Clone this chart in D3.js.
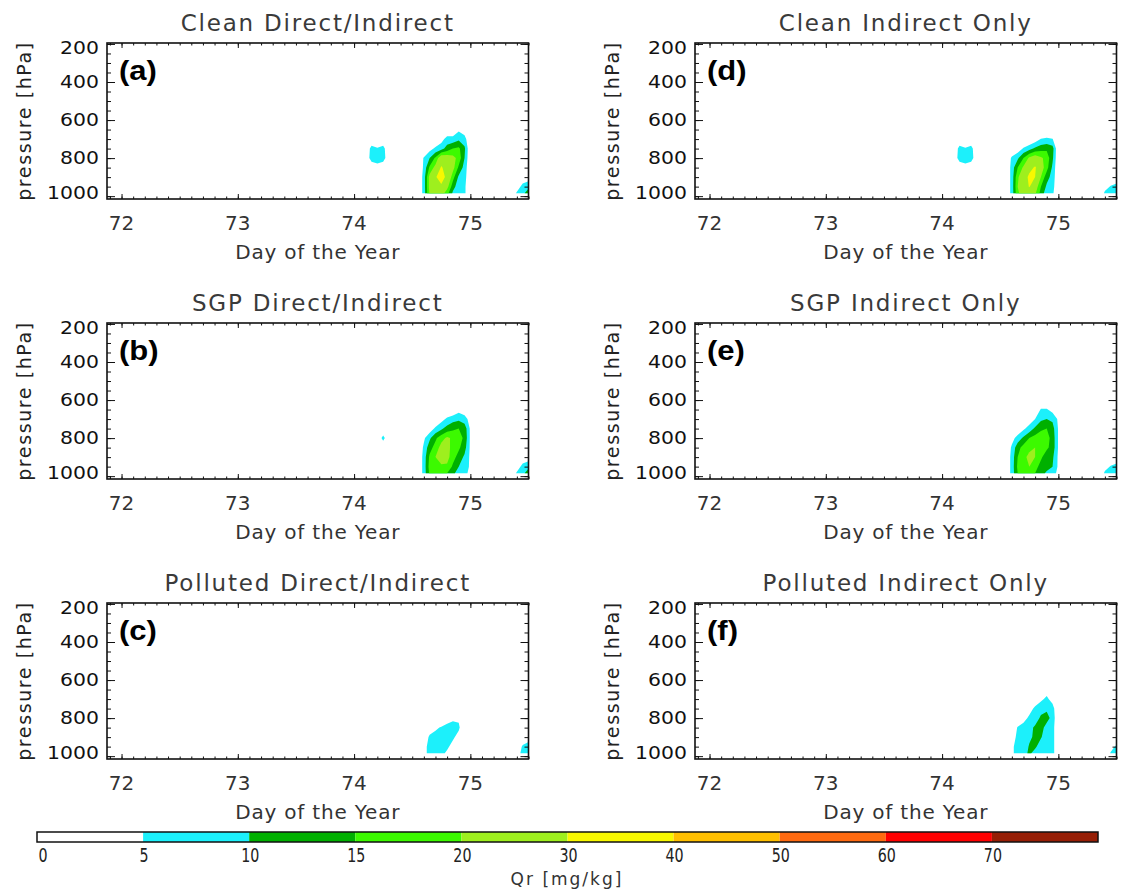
<!DOCTYPE html>
<html>
<head>
<meta charset="utf-8">
<script src="https://cdn.jsdelivr.net/npm/d3@7"></script>
<style>
  body { margin: 0; background: #fff; }
  svg { display: block; }
</style>
</head>
<body>
<div id="chart"></div>
<script>
// grid columns (day of year) and rows (pressure, hPa) of the Qr fields
const days = [74.1, 74.15, 74.2, 74.25, 74.3,
              74.55, 74.6, 74.65, 74.7, 74.75, 74.8, 74.85, 74.9, 74.95, 75.0, 75.05,
              75.35, 75.4, 75.45, 75.5];
const pressures = [600, 650, 700, 750, 800, 850, 900, 950, 985];

// rain water mixing ratio Qr [mg/kg], one row per pressure level
const qrCleanDirect = [
  [0,0,0,0,0, 0,0,0,0,0,0,0,0,0,0,0, 0,0,0,0],
  [0,0,0,0,0, 0,0,0,0,0,0,0,4,2,0,0, 0,0,0,0],
  [0,0,0,0,0, 0,0,0,0,3,7,7,9,7,0,0, 0,0,0,0],
  [0,7,5.5,7,0, 0,0,3,6,8,12,15,16,11,0,0, 0,0,0,0],
  [0,8,9,8,0, 0,5.5,10,16,25,24,22,18,10,0,0, 0,0,0,0],
  [0,0,2,0,0, 0,6,16,22,31,26,22,14,8,0,0, 0,0,0,0],
  [0,0,0,0,0, 0,7,22,29,35,27,17,9,7,0,0, 0,0,1,2],
  [0,0,0,0,0, 0,7,22,28,28,22,12,7,6,0,0, 0,2,7,9],
  [0,0,0,0,0, 0,7,21,24,23,17,9,7,6,0,0, 0,6,9,12]
];
const qrSgpDirect = [
  [0,0,0,0,0, 0,0,0,0,0,0,0,0,0,0,0, 0,0,0,0],
  [0,0,0,0,0, 0,0,0,0,0,0,0,3,2,0,0, 0,0,0,0],
  [0,0,0,0,0, 0,0,0,0,3,6,8,9,7,3,0, 0,0,0,0],
  [0,0,0,0,0, 0,0,2,6,9,12,14,15,13,4,0, 0,0,0,0],
  [0,0,0,7,0, 0,4,9,14,18,21,19,17,14,4,0, 0,0,0,0],
  [0,0,0,0,0, 0,6,13,17,22,22,18,16,12,4,0, 0,0,0,0],
  [0,0,0,0,0, 0,7,16,20,23,22,17,13,9,4,0, 0,0,1,2],
  [0,0,0,0,0, 0,7,17,19,19,19,14,10,8,4,0, 0,2,7,9],
  [0,0,0,0,0, 0,7,16,17,18,15,11,8,7,3,0, 0,6,9,12]
];
const qrPollutedDirect = [
  [0,0,0,0,0, 0,0,0,0,0,0,0,0,0,0,0, 0,0,0,0],
  [0,0,0,0,0, 0,0,0,0,0,0,0,0,0,0,0, 0,0,0,0],
  [0,0,0,0,0, 0,0,0,0,0,0,0,0,0,0,0, 0,0,0,0],
  [0,0,0,0,0, 0,0,0,0,0,0,0,0,0,0,0, 0,0,0,0],
  [0,0,0,0,0, 0,0,0,0,0,2,4,4,0,0,0, 0,0,0,0],
  [0,0,0,0,0, 0,0,2,4,5.5,7,7,6,0,0,0, 0,0,0,0],
  [0,0,0,0,0, 0,1,6,7,7,7,6,3,0,0,0, 0,0,0,3],
  [0,0,0,0,0, 0,3,7,7,7,6,3,0,0,0,0, 0,0,6,7],
  [0,0,0,0,0, 0,3,7,7,6.5,4,0,0,0,0,0, 0,2,7,7]
];
const qrCleanIndirect = [
  [0,0,0,0,0, 0,0,0,0,0,0,0,0,0,0,0, 0,0,0,0],
  [0,0,0,0,0, 0,0,0,0,0,0,0,2,0,0,0, 0,0,0,0],
  [0,0,0,0,0, 0,0,0,0,0,2,5.2,5.5,5.2,0,0, 0,0,0,0],
  [0,7,5.5,7,0, 0,0,2,5.5,8,11,13,14,12,0,0, 0,0,0,0],
  [0,8,9,8,0, 0,6,9,15,21,24,21,18,11,0,0, 0,0,0,0],
  [0,0,2,0,0, 0,7,15,21,27,31,23,17,9,0,0, 0,0,0,0],
  [0,0,0,0,0, 0,7,19,25,32,30,20,12,8,0,0, 0,0,0,3],
  [0,0,0,0,0, 0,7,20,25,30.5,24,15,9,7,0,0, 0,3,5.5,6],
  [0,0,0,0,0, 0,7,19,23,22,21,13,7,6,0,0, 0,6,7,7]
];
const qrSgpIndirect = [
  [0,0,0,0,0, 0,0,0,0,0,0,0,0,0,0,0, 0,0,0,0],
  [0,0,0,0,0, 0,0,0,0,0,0,5.5,5.5,3,0,0, 0,0,0,0],
  [0,0,0,0,0, 0,0,0,0,2,5,9,10,9,4,0, 0,0,0,0],
  [0,0,0,0,0, 0,0,1,4,7,11,14,15,12,4.5,0, 0,0,0,0],
  [0,0,0,0,0, 0,3,7,11,15,17,18,17,13,4.5,0, 0,0,0,0],
  [0,0,0,0,0, 0,6,13,17,19,20,19,16,13,4.5,0, 0,0,0,0],
  [0,0,0,0,0, 0,7,15,19,21,20,16,12,11,4,0, 0,0,0,3],
  [0,0,0,0,0, 0,7,16,19,20,17,13,12,10,4,0, 0,3,5.5,6],
  [0,0,0,0,0, 0,7,15,17,17,15,12,9,8,3,0, 0,6,7,7]
];
const qrPollutedIndirect = [
  [0,0,0,0,0, 0,0,0,0,0,0,0,0,0,0,0, 0,0,0,0],
  [0,0,0,0,0, 0,0,0,0,0,0,0,3,0,0,0, 0,0,0,0],
  [0,0,0,0,0, 0,0,0,0,0,2,4,6,3,0,0, 0,0,0,0],
  [0,0,0,0,0, 0,0,0,0,3,6,8,9,7,0,0, 0,0,0,0],
  [0,0,0,0,0, 0,0,0,3,6,7,11,12,8,0,0, 0,0,0,0],
  [0,0,0,0,0, 0,0,5.5,7,8,11,12,8,7,0,0, 0,0,0,0],
  [0,0,0,0,0, 0,3,6,7,9,11,10.5,7,7,0,0, 0,0,0,0],
  [0,0,0,0,0, 0,4,7,7,10.5,11,7,7,7,0,0, 0,0,3,6],
  [0,0,0,0,0, 0,4,7,8,11,8,7,7,7,0,0, 0,0,5.5,7]
];

const panelTitles = ['Clean Direct/Indirect', 'SGP Direct/Indirect', 'Polluted Direct/Indirect',
                     'Clean Indirect Only', 'SGP Indirect Only', 'Polluted Indirect Only'];
const panelLetters = ['(a)', '(b)', '(c)', '(d)', '(e)', '(f)'];
const panelData = [qrCleanDirect, qrSgpDirect, qrPollutedDirect,
                   qrCleanIndirect, qrSgpIndirect, qrPollutedIndirect];

const levels = [0, 5, 10, 15, 20, 30, 40, 50, 60, 70];
const levelColors = ['#ffffff', '#1cf0fb', '#00b000', '#3cfa00', '#9eef1e',
                     '#f8f800', '#ffbf00', '#ff6a10', '#ff0000', '#961e05'];
const dayTicks = [72, 73, 74, 75];
const pressureTicks = [200, 400, 600, 800, 1000];

const width = 1122, height = 892;
const frameW = 421.5, frameH = 156;
const colLeft = [107, 695];
const rowTop = [43, 323, 603];

const svg = d3.select('#chart')
    .append('svg')
    .attr('width', width)
    .attr('height', height)
    .style('font-family', '"DejaVu Sans", sans-serif');

const color = d3.scaleThreshold().domain(levels.slice(1)).range(levelColors);

// grid index -> real coordinate (columns are not evenly spaced)
const dayOfIndex = d3.scaleLinear().domain(d3.range(days.length)).range(days).clamp(true);
const presOfIndex = d3.scaleLinear().domain(d3.range(pressures.length)).range(pressures).clamp(true);

const contours = d3.contours()
    .size([days.length, pressures.length])
    .thresholds(levels.slice(1));

const x = d3.scaleLinear().domain([71.875, 75.5]).range([0, frameW]);
const y = d3.scaleLinear().domain([195, 1015]).range([0, frameH]);

const gridToPlot = d3.geoTransform({
    point: function (gx, gy) {
        this.stream.point(x(dayOfIndex(gx - 0.5)), y(presOfIndex(gy - 0.5)));
    }
});
const path = d3.geoPath(gridToPlot);

const dayMinor = d3.range(719, 756).map(d => d / 10);
const presMinor = d3.range(200, 1001, 50);

svg.append('defs').append('clipPath').attr('id', 'frameClip')
    .append('rect').attr('width', frameW).attr('height', frameH);

function tickMarks(g, axis, values, size) {
    g.call(axis.tickValues(values).tickSize(size).tickFormat(''))
        .call(s => s.select('.domain').remove())
        .call(s => s.selectAll('line').attr('stroke', '#111').attr('stroke-width', 1));
}

panelData.forEach((grid, i) => {
    const col = i < 3 ? 0 : 1;
    const row = i % 3;
    const g = svg.append('g')
        .attr('transform', `translate(${colLeft[col]},${rowTop[row]})`);

    // filled contours
    g.append('g')
        .attr('clip-path', 'url(#frameClip)')
        .selectAll('path')
        .data(contours(grid.flat()))
        .join('path')
        .attr('d', path)
        .attr('fill', d => color(d.value));

    // ticks on all four sides, pointing inward
    tickMarks(g.append('g').attr('transform', `translate(0,${frameH})`), d3.axisBottom(x), dayMinor, -2.5);
    tickMarks(g.append('g').attr('transform', `translate(0,${frameH})`), d3.axisBottom(x), dayTicks, -5);
    tickMarks(g.append('g'), d3.axisTop(x), dayMinor, -2.5);
    tickMarks(g.append('g'), d3.axisTop(x), dayTicks, -5);
    tickMarks(g.append('g'), d3.axisLeft(y), presMinor, -4);
    tickMarks(g.append('g'), d3.axisLeft(y), pressureTicks, -8);
    tickMarks(g.append('g').attr('transform', `translate(${frameW},0)`), d3.axisRight(y), presMinor, -4);
    tickMarks(g.append('g').attr('transform', `translate(${frameW},0)`), d3.axisRight(y), pressureTicks, -8);

    g.append('rect')
        .attr('width', frameW)
        .attr('height', frameH)
        .attr('fill', 'none')
        .attr('stroke', '#111')
        .attr('stroke-width', 1.6);

    // y tick labels
    g.selectAll('.ylab')
        .data(pressureTicks)
        .join('text')
        .attr('class', 'ylab')
        .attr('transform', (d, k) => {
            const shift = k === 0 ? 4 : (k === pressureTicks.length - 1 ? -3 : 0);
            return `translate(-8,${y(d) + shift}) scale(1.2,1)`;
        })
        .attr('dy', '0.36em')
        .attr('text-anchor', 'end')
        .style('font-size', '17px')
        .attr('fill', '#111')
        .text(d => d);

    // x tick labels
    g.selectAll('.xlab')
        .data(dayTicks)
        .join('text')
        .attr('class', 'xlab')
        .attr('x', d => x(d))
        .attr('y', frameH + 31)
        .attr('text-anchor', 'middle')
        .style('font-size', '20px')
        .attr('fill', '#333')
        .text(d => d);

    g.append('text')
        .attr('x', frameW / 2)
        .attr('y', frameH + 60)
        .attr('text-anchor', 'middle')
        .style('font-size', '20px')
        .style('letter-spacing', '0.8px')
        .attr('fill', '#333')
        .text('Day of the Year');

    g.append('text')
        .attr('transform', `translate(-81,${frameH / 2}) rotate(-90)`)
        .attr('dy', '0.25em')
        .attr('text-anchor', 'middle')
        .style('font-size', '19px')
        .style('letter-spacing', '1.6px')
        .attr('fill', '#222')
        .text('pressure [hPa]');

    g.append('text')
        .attr('x', frameW / 2)
        .attr('y', -12)
        .attr('text-anchor', 'middle')
        .style('font-size', '23px')
        .style('letter-spacing', '1.8px')
        .attr('fill', '#3a3a3a')
        .text(panelTitles[i]);

    g.append('text')
        .attr('transform', 'translate(12,37) scale(1.15,1)')
        .style('font-family', '"Liberation Sans", Arial, sans-serif')
        .style('font-weight', 'bold')
        .style('font-size', '27px')
        .attr('fill', '#000')
        .text(panelLetters[i]);
});

// colour bar
const cbX = d3.scaleLinear().domain([0, levels.length]).range([37, 1098]);
const cbTop = 832, cbH = 10;

svg.selectAll('.cb')
    .data(levels)
    .join('rect')
    .attr('class', 'cb')
    .attr('x', (d, i) => cbX(i))
    .attr('y', cbTop)
    .attr('width', (d, i) => cbX(i + 1) - cbX(i))
    .attr('height', cbH)
    .attr('fill', d => color(d));

svg.append('rect')
    .attr('x', cbX(0))
    .attr('y', cbTop)
    .attr('width', cbX(levels.length) - cbX(0))
    .attr('height', cbH)
    .attr('fill', 'none')
    .attr('stroke', '#111')
    .attr('stroke-width', 1.5);

svg.selectAll('.cblab')
    .data(levels)
    .join('text')
    .attr('class', 'cblab')
    .attr('transform', (d, i) => `translate(${i === 0 ? cbX(0) + 6 : cbX(i) + 1},${cbTop + 30}) scale(0.75,1)`)
    .attr('text-anchor', 'middle')
    .style('font-size', '19px')
    .attr('fill', '#222')
    .text(d => d);

svg.append('text')
    .attr('x', 567)
    .attr('y', cbTop + 53)
    .attr('text-anchor', 'middle')
    .style('font-size', '17px')
    .style('letter-spacing', '2px')
    .attr('fill', '#333')
    .text('Qr [mg/kg]');
</script>
</body>
</html>
